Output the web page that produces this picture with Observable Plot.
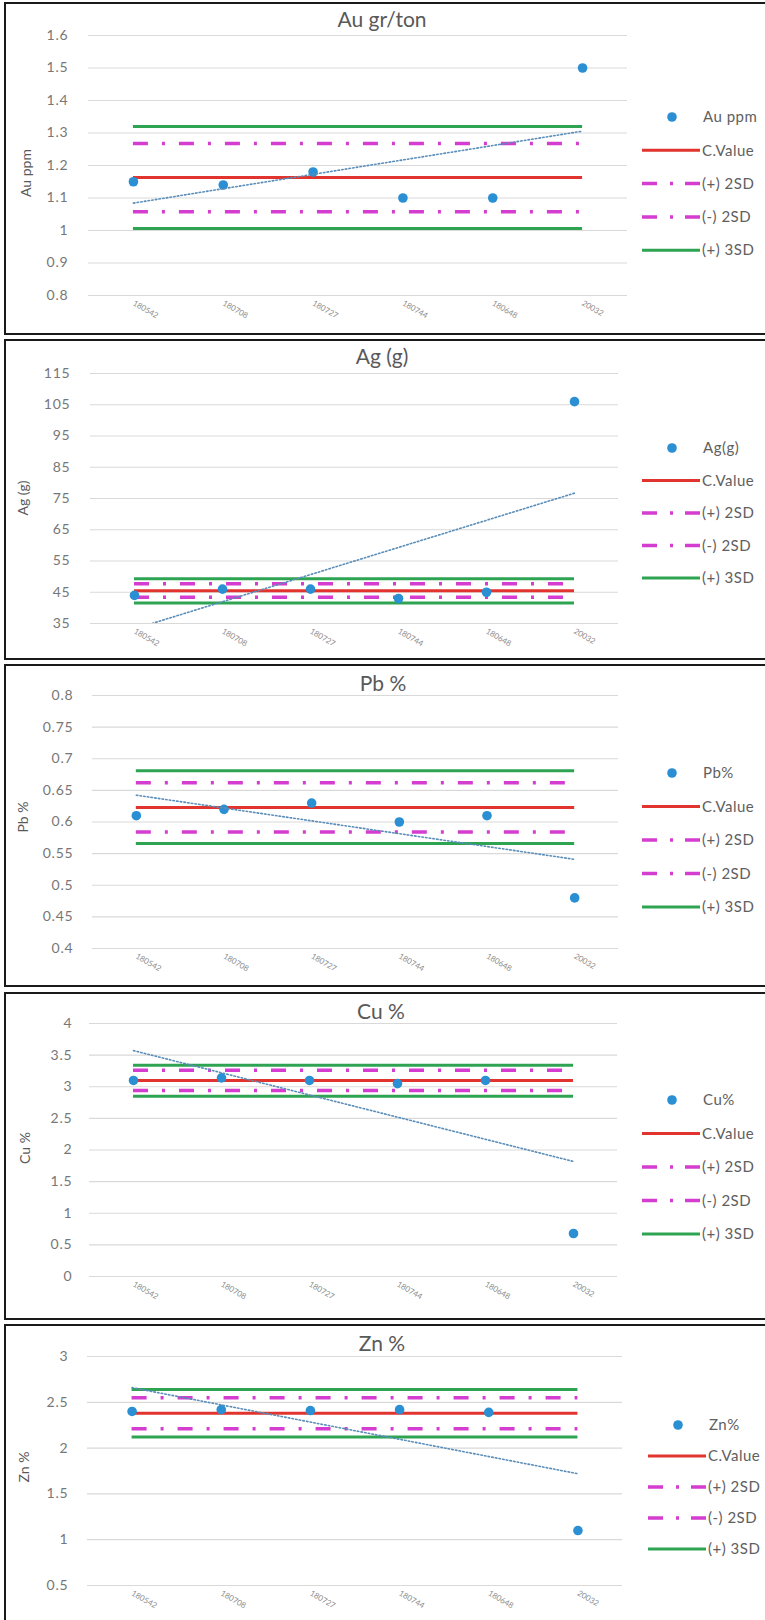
<!DOCTYPE html>
<html><head><meta charset="utf-8">
<script src="https://cdn.jsdelivr.net/npm/d3@7"></script>
<script src="https://cdn.jsdelivr.net/npm/@observablehq/plot@0.6"></script>
<style>
html,body{margin:0;padding:0;background:#fff;overflow:hidden;width:765px;height:1620px;}
#root{position:relative;width:765px;height:1620px;font-family:Lato,"Open Sans",sans-serif;overflow:hidden;}
.box{position:absolute;border:2px solid #1a1a1a;box-sizing:border-box;pointer-events:none;z-index:5}
.ttl{position:absolute;transform:translate(-50%,-50%);font-size:21px;color:#595959;white-space:nowrap;z-index:4}
.ylab{position:absolute;transform:translate(-50%,-50%) rotate(-90deg);font-size:14px;color:#595959;white-space:nowrap;z-index:4}
.plotsvg{position:absolute;left:0;z-index:2}
.plotsvg g[aria-label="y-axis tick label"] text{letter-spacing:0.8px}
.legend{position:absolute;left:0;z-index:3;overflow:visible}
.legend text{letter-spacing:0.5px}
</style></head><body><div id="root"></div>
<script>
// ---- data ----
const sampleLabels = ["180542", "180708", "180727", "180744", "180648", "20032"];
const legendNames = ["C.Value", "(+) 2SD", "(-) 2SD", "(+) 3SD"];

const auValues = [1.15, 1.14, 1.18, 1.10, 1.10, 1.50];
const agValues = [44, 46, 46, 43, 45, 106];
const pbValues = [0.61, 0.62, 0.63, 0.60, 0.61, 0.48];
const cuValues = [3.10, 3.14, 3.10, 3.05, 3.10, 0.68];
const znValues = [2.40, 2.42, 2.41, 2.42, 2.39, 1.10];

// control limits: C.Value, +2SD, -2SD, +3SD, -3SD
const auLimits = [1.163, 1.268, 1.058, 1.320, 1.006];
const agLimits = [45.5, 47.7, 43.4, 49.3, 41.6];
const pbLimits = [0.623, 0.662, 0.584, 0.681, 0.566];
const cuLimits = [3.10, 3.26, 2.94, 3.34, 2.85];
const znLimits = [2.38, 2.55, 2.21, 2.64, 2.12];

const auTicks = [0.8, 0.9, 1, 1.1, 1.2, 1.3, 1.4, 1.5, 1.6];
const agTicks = [35, 45, 55, 65, 75, 85, 95, 105, 115];
const pbTicks = [0.4, 0.45, 0.5, 0.55, 0.6, 0.65, 0.7, 0.75, 0.8];
const cuTicks = [0, 0.5, 1, 1.5, 2, 2.5, 3, 3.5, 4];
const znTicks = [0.5, 1, 1.5, 2, 2.5, 3];

// ---- layout ----
const panels = [
  {title:"Au gr/ton", ylab:"Au ppm", series:"Au ppm", values:auValues, limits:auLimits, ticks:auTicks,
   box:[2,333], svgTop:0, h:333, ml:88, mr:138, mt:35, mb:38, tp:20,
   tx:382, ty:18, yx:25, yy:173, lg0:117, lgStep:33.3, lgX0:642},
  {title:"Ag (g)", ylab:"Ag (g)", series:"Ag(g)", values:agValues, limits:agLimits, ticks:agTicks,
   box:[339,321], svgTop:337, h:321, ml:90, mr:147, mt:36, mb:35, tp:20,
   tx:382, ty:355, yx:22, yy:498, lg0:448, lgStep:32.5, lgX0:642},
  {title:"Pb %", ylab:"Pb %", series:"Pb%", values:pbValues, limits:pbLimits, ticks:pbTicks,
   box:[664,323], svgTop:662, h:323, ml:92, mr:147, mt:33, mb:37, tp:19,
   tx:383, ty:682, yx:22, yy:817, lg0:773, lgStep:33.5, lgX0:642},
  {title:"Cu %", ylab:"Cu %", series:"Cu%", values:cuValues, limits:cuLimits, ticks:cuTicks,
   box:[992,328], svgTop:991, h:327, ml:89, mr:148, mt:32, mb:42, tp:17,
   tx:381, ty:1010, yx:24, yy:1148, lg0:1100, lgStep:33.5, lgX0:642},
  {title:"Zn %", ylab:"Zn %", series:"Zn%", values:znValues, limits:znLimits, ticks:znTicks,
   box:[1324,320], svgTop:1322, h:298, ml:87, mr:143, mt:34, mb:35, tp:19,
   tx:382, ty:1342, yx:23, yy:1467, lg0:1425, lgStep:31, lgX0:648}
];

const C_RED = "#e2342f", C_GREEN = "#2ea352", C_PINK = "#d43dd0", C_BLUE = "#2a8fd3", C_TREND = "#5a8db8";
const PINK_DASH = "15,14,3,14";

const root = document.getElementById("root");

for (const p of panels) {
  const data = p.values.map((v, i) => ({i, v}));
  const first = 0, last = sampleLabels.length - 1;
  const [c, p2, m2, p3, m3] = p.limits;
  const svg = Plot.plot({
    width: 765, height: p.h,
    marginLeft: p.ml, marginRight: p.mr, marginTop: p.mt, marginBottom: p.mb,
    style: {background: "transparent", overflow: "visible", fontFamily: "Lato, 'Open Sans', sans-serif"},
    x: {type: "linear", domain: [-0.5, last + 0.5]},
    y: {domain: [p.ticks[0], p.ticks[p.ticks.length - 1]]},
    marks: [
      Plot.gridY(p.ticks, {stroke: "#d9d9d9", strokeOpacity: 1, strokeWidth: 1.2}),
      Plot.axisY(p.ticks, {tickSize: 0, tickPadding: p.tp, tickFormat: d => String(d), fontSize: 14, fill: "#777777", label: null}),
      Plot.axisX(sampleLabels.map((_, i) => i), {tickSize: 0, tickPadding: 7, tickRotate: 30, tickFormat: i => sampleLabels[i], fontSize: 8, fill: "#8c8c8c", label: null}),
      Plot.ruleY([p3, m3], {x1: first, x2: last, stroke: C_GREEN, strokeWidth: 3}),
      Plot.ruleY([p2, m2], {x1: first, x2: last, stroke: C_PINK, strokeWidth: 3.5, strokeDasharray: PINK_DASH}),
      Plot.ruleY([c], {x1: first, x2: last, stroke: C_RED, strokeWidth: 3}),
      Plot.dot(data, {x: "i", y: "v", r: 4.8, fill: C_BLUE, stroke: "none"}),
      Plot.linearRegressionY(data, {x: "i", y: "v", stroke: C_TREND, strokeWidth: 1.6, strokeDasharray: "1.5,2.2", ci: 0, clip: true})
    ]
  });
  svg.classList.add("plotsvg");
  svg.style.top = p.svgTop + "px";
  root.appendChild(svg);

  // border box
  const box = document.createElement("div");
  box.className = "box";
  box.style.left = "4px"; box.style.top = p.box[0] + "px";
  box.style.width = "800px"; box.style.height = p.box[1] + "px";
  root.appendChild(box);

  // title
  const t = document.createElement("div");
  t.className = "ttl"; t.textContent = p.title;
  t.style.left = p.tx + "px"; t.style.top = p.ty + "px";
  root.appendChild(t);

  // y label
  const yl = document.createElement("div");
  yl.className = "ylab"; yl.textContent = p.ylab;
  yl.style.left = p.yx + "px"; yl.style.top = p.yy + "px";
  root.appendChild(yl);

  // legend
  const lg = d3.select(root).append("svg").attr("class", "legend")
    .attr("width", 765).attr("height", 200).style("top", (p.lg0 - 20) + "px");
  const x0 = p.lgX0, x1 = x0 + 58, tx = x1 + 2;
  const items = [
    {name: p.series, kind: "dot"},
    {name: legendNames[0], kind: "line", color: C_RED, dash: null, w: 3},
    {name: legendNames[1], kind: "line", color: C_PINK, dash: "15,13,3,12,15", w: 3.5},
    {name: legendNames[2], kind: "line", color: C_PINK, dash: "15,13,3,12,15", w: 3.5},
    {name: legendNames[3], kind: "line", color: C_GREEN, dash: null, w: 3}
  ];
  items.forEach((it, k) => {
    const y = 20 + k * p.lgStep;
    if (it.kind === "dot") {
      lg.append("circle").attr("cx", x0 + 30).attr("cy", y).attr("r", 4.8).attr("fill", C_BLUE);
    } else {
      lg.append("line").attr("x1", x0).attr("x2", x1).attr("y1", y).attr("y2", y)
        .attr("stroke", it.color).attr("stroke-width", it.w)
        .attr("stroke-dasharray", it.dash);
    }
    lg.append("text").attr("x", it.kind === "dot" ? x0 + 61 : tx).attr("y", y)
      .attr("dy", "0.35em").attr("font-size", 15).attr("fill", "#606060")
      .attr("font-family", "Lato, 'Open Sans', sans-serif").text(it.name);
  });
}
</script></body></html>
